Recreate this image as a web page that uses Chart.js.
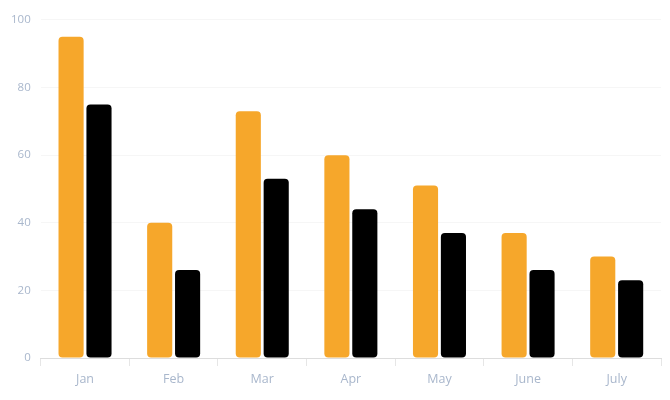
<!DOCTYPE html>
<html>
<head>
<meta charset="utf-8">
<script src="https://cdn.jsdelivr.net/npm/chart.js@4/dist/chart.umd.min.js"></script>
<style>
  html, body { margin: 0; padding: 0; background: #fff; }
  #wrap { width: 670px; height: 397px; padding-top: 3px; }
</style>
</head>
<body>
<div id="wrap"><canvas id="barChart"></canvas></div>
<script>
// chart values
var months = ['Jan', 'Feb', 'Mar', 'Apr', 'May', 'June', 'July'];
var seriesA = [95, 40, 73, 60, 51, 37, 30];
var seriesB = [75, 26, 53, 44, 37, 26, 23];
var yTicks = [0, 20, 40, 60, 80, 100];

var tickColor = '#a9b7cc';

var ctx = document.getElementById('barChart').getContext('2d');
var barChart = new Chart(ctx, {
    type: 'bar',
    data: {
        labels: months,
        datasets: [{
            label: 'A',
            data: seriesA,
            backgroundColor: '#f6a72b',
            borderRadius: 4,
            borderSkipped: false,
            categoryPercentage: 0.63,
            barPercentage: 0.9
        }, {
            label: 'B',
            data: seriesB,
            backgroundColor: '#000000',
            borderRadius: 4,
            borderSkipped: false,
            categoryPercentage: 0.63,
            barPercentage: 0.9
        }]
    },
    options: {
        responsive: true,
        maintainAspectRatio: false,
        animation: false,
        layout: { padding: { top: 14, right: 9, bottom: 7, left: 1 } },
        plugins: {
            legend: { display: false },
            tooltip: { enabled: false }
        },
        scales: {
            x: {
                grid: {
                    drawOnChartArea: false,
                    drawTicks: true,
                    tickLength: 8,
                    color: '#e6e6e6'
                },
                border: { display: true, color: '#dddddd' },
                ticks: {
                    color: tickColor,
                    font: { family: 'Open Sans', size: 12.5 },
                    padding: 6
                }
            },
            y: {
                min: 0,
                max: 100,
                afterBuildTicks: function (axis) {
                    axis.ticks = yTicks.map(function (v) { return { value: v }; });
                },
                grid: {
                    drawTicks: false,
                    color: '#f6f6f6'
                },
                border: { display: false },
                ticks: {
                    color: tickColor,
                    font: { family: 'Open Sans', size: 11.5 },
                    padding: 10
                }
            }
        }
    }
});
</script>
</body>
</html>
